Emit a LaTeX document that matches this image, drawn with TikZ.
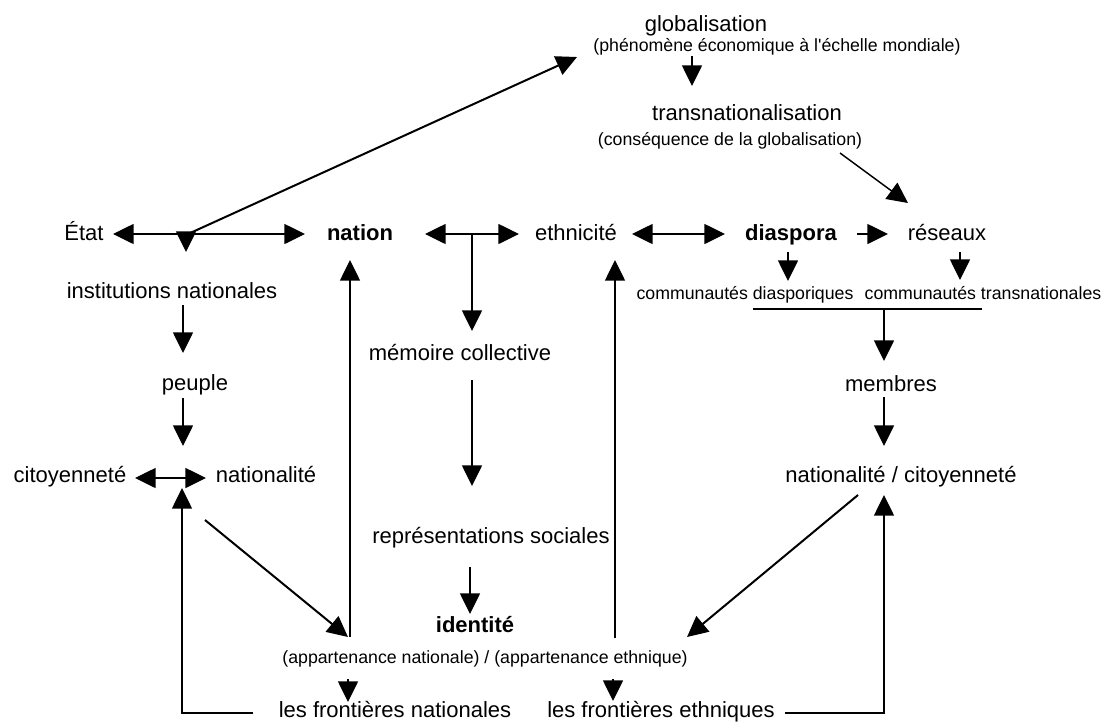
\documentclass[tikz,border=0pt]{standalone}
\usepackage{fontspec}
\setmainfont{Liberation Sans}
\usetikzlibrary{arrows.meta}
\begin{document}
\begin{tikzpicture}[x=0.75pt,y=-0.75pt,
  lbl/.style={inner sep=0pt, anchor=base, font=\fontsize{16.5}{18}\selectfont},
  sml/.style={inner sep=0pt, anchor=base, font=\fontsize{13.3}{15}\selectfont},
  bld/.style={inner sep=0pt, anchor=base, font=\fontsize{16.5}{18}\selectfont\bfseries},
  link/.style={line width=1.1pt, draw=black},
  tip/.tip={Triangle[length=15.5pt,width=15pt]},
  arr/.style={link, -tip},
  biarr/.style={link, tip-tip},
  diag/.style={arr, line width=1.5pt}
]
\useasboundingbox (0,0) rectangle (1111,726);

% ---------- labels ----------
\node[lbl] (glob)    at (706,31)  {globalisation};
\node[sml] (phen)    at (777,51)  {(phénomène économique à l\textquotesingle échelle mondiale)};
\node[lbl] (trans)   at (747,120) {transnationalisation};
\node[sml] (cons)    at (730,145) {(conséquence de la globalisation)};
\node[lbl] (etat)    at (84,240)  {État};
\node[bld] (nation)  at (360,240) {nation};
\node[lbl] (ethn)    at (576,240) {ethnicité};
\node[bld] (diasp)   at (791,240) {diaspora};
\node[lbl] (res)     at (947,240) {réseaux};
\node[lbl] (inst)    at (172,298) {institutions nationales};
\node[sml] (comd)    at (745,299) {communautés diasporiques};
\node[sml] (comt)    at (983,299) {communautés transnationales};
\node[lbl] (mem)     at (460,360) {mémoire collective};
\node[lbl] (peuple)  at (195,390) {peuple};
\node[lbl] (membres) at (891,391) {membres};
\node[lbl] (citoy)   at (70,482)  {citoyenneté};
\node[lbl] (nat)     at (266,482) {nationalité};
\node[lbl] (natcit)  at (901,482) {nationalité / citoyenneté};
\node[lbl] (repr)    at (491,543) {représentations sociales};
\node[bld] (ident)   at (475,632) {identité};
\node[sml] (appart)  at (485,663) {(appartenance nationale) / (appartenance ethnique)};
\node[lbl] (frnat)   at (395,717) {les frontières nationales};
\node[lbl] (freth)   at (661,717) {les frontières ethniques};

% ---------- connector end points ----------
\coordinate (globS)   at (692,56);   \coordinate (transN)  at (692,86);
\coordinate (consSE)  at (840,153);  \coordinate (resN)    at (908,203);
\coordinate (etatE)   at (113,234);  \coordinate (nationW) at (305,234);
\coordinate (etatJ)   at (186,234);  \coordinate (instN)   at (186,252);
\coordinate (etatJb)  at (188,234);  \coordinate (globW)   at (577,57);
\coordinate (nationE) at (425,234);  \coordinate (ethnW)   at (519,234);
\coordinate (nethJ)   at (472,234);  \coordinate (memN)    at (472,331);
\coordinate (ethnE)   at (632,234);  \coordinate (diaspW)  at (725,234);
\coordinate (diaspE)  at (857,234);  \coordinate (resW)    at (888,234);
\coordinate (diaspS)  at (788,252);  \coordinate (comdN)   at (788,281);
\coordinate (resS)    at (960,252);  \coordinate (comtN)   at (960,280);
\coordinate (barL)    at (753,309);  \coordinate (barR)    at (982,309);
\coordinate (barJ)    at (884,309);  \coordinate (membN)   at (884,361);
\coordinate (instS)   at (183,305);  \coordinate (peupN)   at (183,353);
\coordinate (peupS)   at (183,398);  \coordinate (citN)    at (183,446);
\coordinate (citE)    at (135,478);  \coordinate (natW)    at (206,478);
\coordinate (memS)    at (472,380);  \coordinate (reprN)   at (472,486);
\coordinate (membS)   at (884,397);  \coordinate (ncN)     at (884,446);
\coordinate (frnW)    at (253,713);  \coordinate (frnC)    at (182,713);
\coordinate (natS)    at (182,488);
\coordinate (natSE)   at (205,520);  \coordinate (identNW) at (348,637);
\coordinate (nvB)     at (350,637);  \coordinate (nationS) at (350,260);
\coordinate (evB)     at (615,638);  \coordinate (ethnS)   at (615,260);
\coordinate (reprS)   at (470,567);  \coordinate (identN)  at (470,614);
\coordinate (freE)    at (785,713);  \coordinate (freC)    at (884,713);
\coordinate (ncS)     at (884,495);
\coordinate (ncSW)    at (858,495);  \coordinate (identNE) at (687,637);
\coordinate (apL)     at (348,679);  \coordinate (frnN)    at (348,702);
\coordinate (apR)     at (613,679);  \coordinate (freN)    at (613,701);

% ---------- connectors ----------
\draw[arr]   (globS) -- (transN);
\draw[arr]   (consSE) -- (resN);
\draw[biarr] (etatE) -- (nationW);
\draw[arr]   (etatJ) -- (instN);
\draw[diag]  (etatJb) -- (globW);
\draw[biarr] (nationE) -- (ethnW);
\draw[arr]   (nethJ) -- (memN);
\draw[biarr] (ethnE) -- (diaspW);
\draw[arr]   (diaspE) -- (resW);
\draw[arr]   (diaspS) -- (comdN);
\draw[arr]   (resS) -- (comtN);
\draw[link]  (barL) -- (barR);
\draw[arr]   (barJ) -- (membN);
\draw[arr]   (instS) -- (peupN);
\draw[arr]   (peupS) -- (citN);
\draw[biarr] (citE) -- (natW);
\draw[arr]   (memS) -- (reprN);
\draw[arr]   (membS) -- (ncN);
\draw[arr]   (frnW) -- (frnC) -- (natS);
\draw[diag]  (natSE) -- (identNW);
\draw[arr]   (nvB) -- (nationS);
\draw[arr]   (evB) -- (ethnS);
\draw[arr]   (reprS) -- (identN);
\draw[arr]   (freE) -- (freC) -- (ncS);
\draw[diag]  (ncSW) -- (identNE);
\draw[arr]   (apL) -- (frnN);
\draw[arr]   (apR) -- (freN);
\end{tikzpicture}
\end{document}
